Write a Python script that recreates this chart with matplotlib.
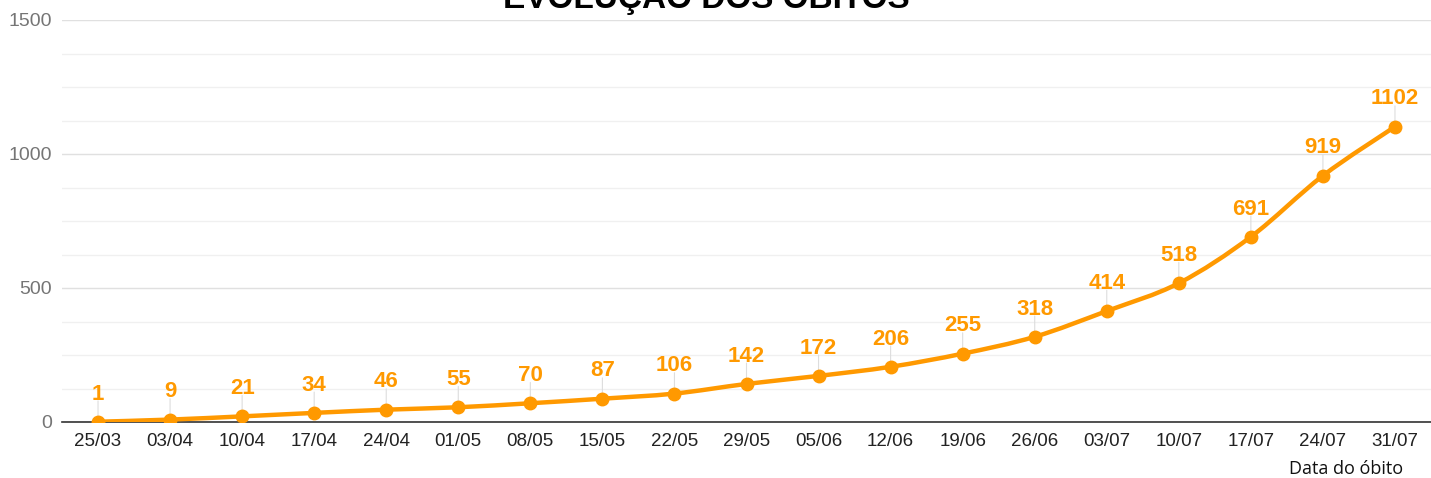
import numpy as np
import matplotlib
matplotlib.use("Agg")
import matplotlib.pyplot as plt
from matplotlib.path import Path
from matplotlib.patches import PathPatch

# Data
datas = ["25/03", "03/04", "10/04", "17/04", "24/04", "01/05", "08/05", "15/05",
         "22/05", "29/05", "05/06", "12/06", "19/06", "26/06", "03/07", "10/07",
         "17/07", "24/07", "31/07"]
obitos = [1, 9, 21, 34, 46, 55, 70, 87, 106, 142, 172, 206, 255, 318, 414, 518,
          691, 919, 1102]

orange = "#ff9900"
plt.rcParams["font.family"] = ["Liberation Sans", "DejaVu Sans"]

fig = plt.figure(figsize=(14.31, 4.78), dpi=100)
ax = fig.add_axes([62 / 1431, 1 - 422 / 478, 1 - 62 / 1431, (422 - 20) / 478])

x = np.arange(len(obitos))
y = np.array(obitos, dtype=float)

# smooth curve through points (Catmull-Rom as cubic Bezier)
verts = [(x[0], y[0])]
codes = [Path.MOVETO]
for i in range(len(x) - 1):
    p0 = (x[max(i - 1, 0)], y[max(i - 1, 0)])
    p1 = (x[i], y[i])
    p2 = (x[i + 1], y[i + 1])
    p3 = (x[min(i + 2, len(x) - 1)], y[min(i + 2, len(x) - 1)])
    c1 = (p1[0] + (p2[0] - p0[0]) / 6, p1[1] + (p2[1] - p0[1]) / 6)
    c2 = (p2[0] - (p3[0] - p1[0]) / 6, p2[1] - (p3[1] - p1[1]) / 6)
    verts += [c1, c2, p2]
    codes += [Path.CURVE4] * 3
ax.add_patch(PathPatch(Path(verts, codes), fill=False, edgecolor=orange,
                       lw=3.2, capstyle="round", joinstyle="round", zorder=4))
ax.plot(x, y, "o", color=orange, markersize=9, zorder=5)

# labels with stems
for xi, yi in zip(x, obitos):
    ax.annotate("", xy=(xi, yi), xytext=(0, 15), textcoords="offset points",
                xycoords="data", annotation_clip=False,
                arrowprops=dict(arrowstyle="-", color="#dddddd", lw=0.8,
                                shrinkA=0, shrinkB=0), zorder=3)
    ax.annotate(str(yi), xy=(xi, yi), xytext=(0, 16), textcoords="offset points",
                ha="center", va="baseline", color=orange, fontsize=16,
                fontweight="bold", zorder=6)

ax.set_xlim(-0.5, 18.5)
ax.set_ylim(0, 1500)
ax.set_xticks(x)
ax.set_xticklabels(datas, fontsize=13.5, color="#222222")
ax.set_yticks([0, 500, 1000, 1500])
ax.set_yticks([125, 250, 375, 625, 750, 875, 1125, 1250, 1375], minor=True)
ax.tick_params(axis="y", which="both", length=0, labelsize=14, labelcolor="#757575", pad=7)
ax.tick_params(axis="x", length=0, pad=8)
ax.grid(axis="y", which="major", color="#e0e0e0", lw=1)
ax.grid(axis="y", which="minor", color="#f0f0f0", lw=1)
ax.set_axisbelow(True)
for s in ["top", "right", "left"]:
    ax.spines[s].set_visible(False)
ax.spines["bottom"].set_color("#333333")
ax.spines["bottom"].set_linewidth(1.2)
ax.spines["bottom"].set_zorder(2)

fig.text(1403 / 1431, 1 - 474 / 478, "Data do óbito", ha="right", va="baseline",
         fontsize=13, color="#111111", family=["Open Sans", "DejaVu Sans"])
fig.text(706 / 1431, 1 - 8 / 478, "EVOLUÇÃO DOS ÓBITOS", ha="center", va="baseline",
         fontsize=24, fontweight="bold", color="black")

fig.savefig("out.png", dpi=100)
